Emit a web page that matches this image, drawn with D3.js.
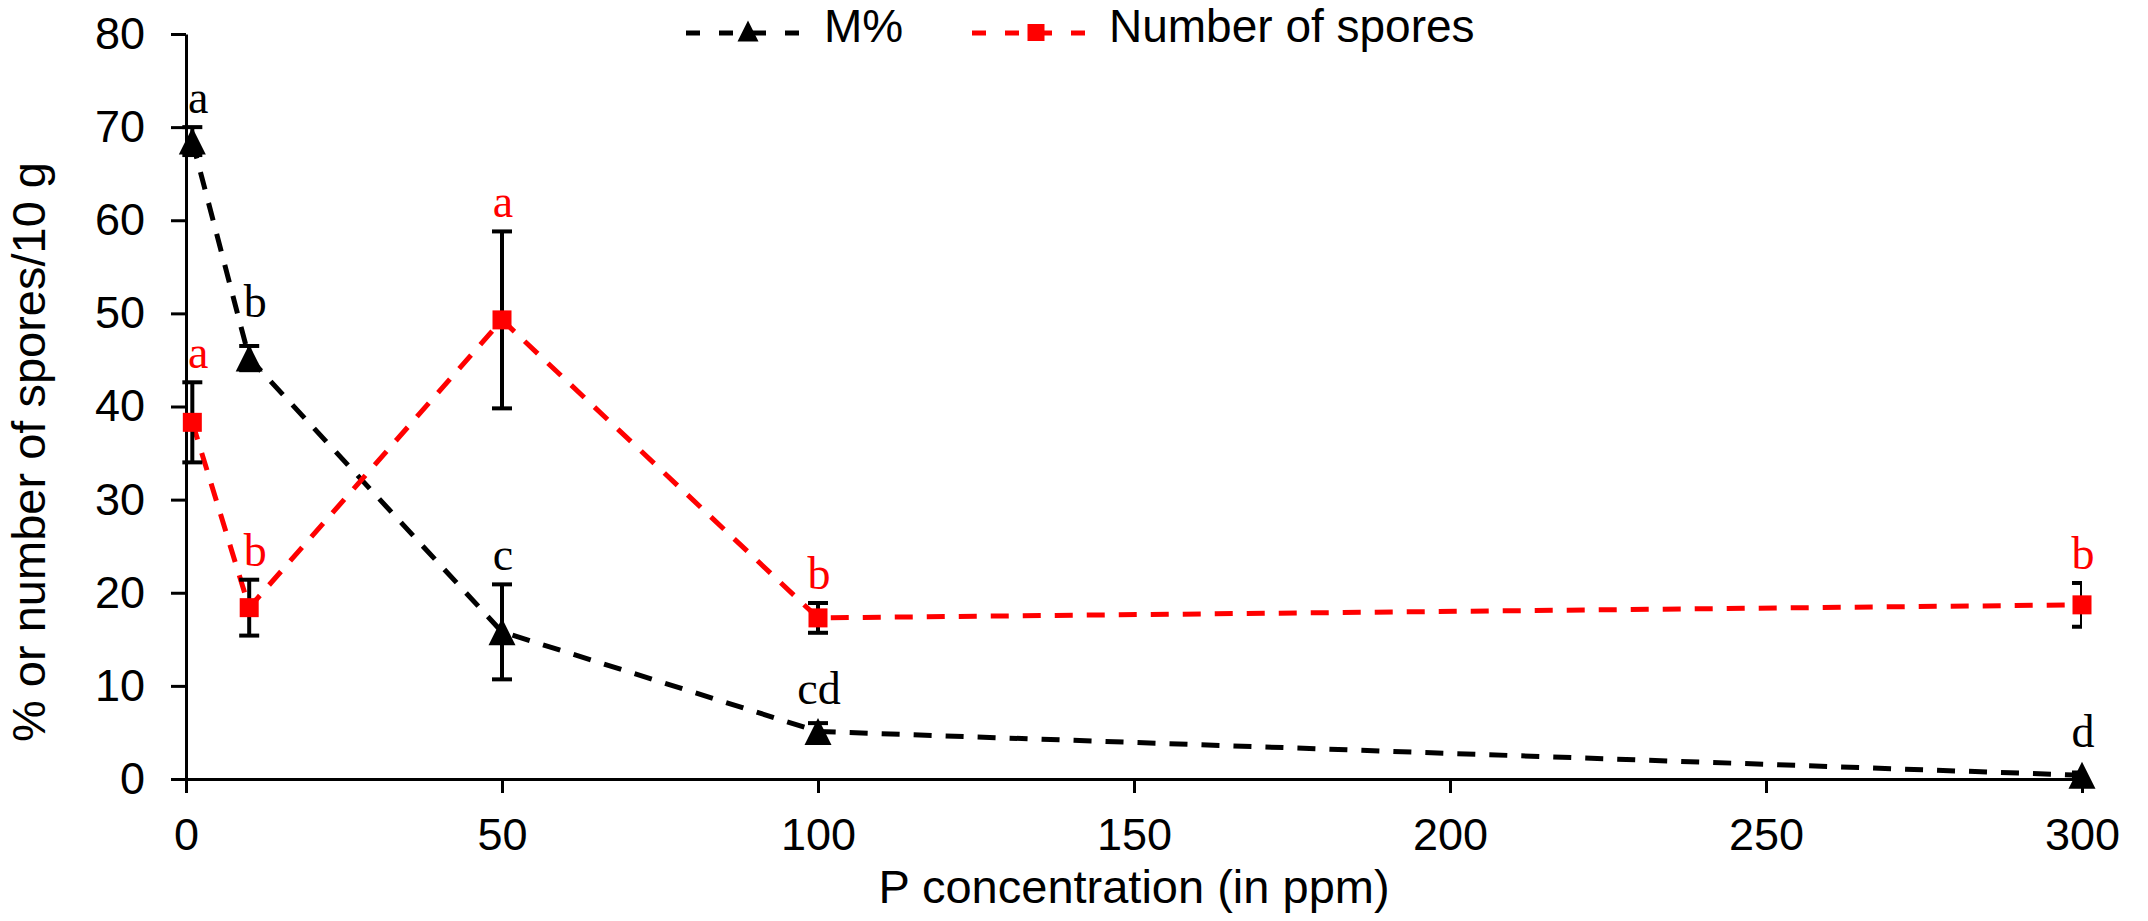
<!doctype html>
<html lang="en">
<head>
<meta charset="utf-8">
<title>P concentration vs M% and spores</title>
<script src="https://d3js.org/d3.v7.min.js"></script>
<style>
  body { margin: 0; background: #fff; }
  svg { display: block; }
  text { font-family: 'Liberation Sans', Arial, sans-serif; fill: #000; }
  .axis text { font-size: 45px; }
  .axis path, .axis line { stroke: #000; stroke-width: 3px; }
  .label { font-size: 47px; }
  .legend text { font-size: 46px; }
  .letter { font-family: 'Liberation Serif', 'Times New Roman', serif; font-size: 46px; }
</style>
</head>
<body>
<svg id="chart" width="2148" height="921"></svg>
<script>
// P concentration (ppm) of each treatment
const pConc = [1, 10, 50, 100, 300];

// M% (black, triangles)
const mPct = [68.5, 45.2, 15.8, 5.1, 0.4];
const mErr = [1.5, 1.3, 5.1, 0.9, 0.3];
const mLetters = ['a', 'b', 'c', 'cd', 'd'];

// Number of spores / 10 g (red, squares)
const spores = [38.3, 18.4, 49.3, 17.3, 18.7];
const sporesErr = [4.3, 3.0, 9.5, 1.6, 2.35];
const sporesLetters = ['a', 'b', 'a', 'b', 'b'];

const xTicks = [0, 50, 100, 150, 200, 250, 300];
const yTicks = [0, 10, 20, 30, 40, 50, 60, 70, 80];

const series = [
  { name: 'M%', values: mPct, err: mErr, letters: mLetters, color: '#000000', marker: 'triangle' },
  { name: 'Number of spores', values: spores, err: sporesErr, letters: sporesLetters, color: '#ff0000', marker: 'square' }
];

const svg = d3.select('#chart');
const plotLeft = 186, plotRight = 2082, plotTop = 34, plotBottom = 779;

const x = d3.scaleLinear().domain([0, 300]).range([plotLeft, plotRight]);
const y = d3.scaleLinear().domain([0, 80]).range([plotBottom, plotTop]);

const tri = (s) => `M${-s / 2},${s / 2}L0,${-s / 2}L${s / 2},${s / 2}Z`;

// axes
svg.append('g')
  .attr('class', 'axis')
  .attr('transform', `translate(0,${plotBottom})`)
  .call(d3.axisBottom(x).tickValues(xTicks).tickSize(14).tickSizeOuter(0).tickPadding(25));

svg.append('g')
  .attr('class', 'axis')
  .attr('transform', `translate(${plotLeft},0)`)
  .call(d3.axisLeft(y).tickValues(yTicks).tickSize(15).tickSizeOuter(0).tickPadding(26));

svg.append('clipPath').attr('id', 'plot')
  .append('rect')
  .attr('x', plotLeft - 40).attr('y', 0)
  .attr('width', plotRight - plotLeft + 40).attr('height', plotBottom);

// dashed lines
const line = d3.line()
  .x((d, i) => x(pConc[i]))
  .y((d) => y(d));

series.forEach((s) => {
  svg.append('path')
    .datum(s.values)
    .attr('d', line)
    .attr('fill', 'none')
    .attr('stroke', s.color)
    .attr('stroke-width', 5)
    .attr('stroke-dasharray', '18 14');
});

// error bars (black for both)
series.forEach((s) => {
  const g = svg.append('g').attr('clip-path', 'url(#plot)')
    .attr('stroke', '#000').attr('stroke-width', 4);
  s.values.forEach((v, i) => {
    const cx = x(pConc[i]);
    const y1 = y(v + s.err[i]), y2 = y(v - s.err[i]);
    g.append('line').attr('x1', cx).attr('x2', cx).attr('y1', y1).attr('y2', y2);
    g.append('line').attr('x1', cx - 10).attr('x2', cx + 10).attr('y1', y1).attr('y2', y1);
    g.append('line').attr('x1', cx - 10).attr('x2', cx + 10).attr('y1', y2).attr('y2', y2);
  });
});

// markers
series.forEach((s) => {
  const g = svg.append('g');
  s.values.forEach((v, i) => {
    const cx = x(pConc[i]), cy = y(v);
    if (s.marker === 'triangle') {
      g.append('path').attr('d', tri(27)).attr('transform', `translate(${cx},${cy})`).attr('fill', s.color);
    } else {
      g.append('rect').attr('x', cx - 9.5).attr('y', cy - 9.5).attr('width', 19).attr('height', 19).attr('fill', s.color);
    }
  });
});

// significance letters, just above the top of each error bar / marker
series.forEach((s) => {
  s.values.forEach((v, i) => {
    const clear = s.marker === 'triangle' && s.err[i] < 2 && i === 1 ? 27 : 14;
    const yTop = Math.min(y(v + s.err[i]), y(v) - clear);
    svg.append('text')
      .attr('class', 'letter')
      .attr('x', x(pConc[i]) + (i < 2 ? 6 : 1))
      .attr('y', yTop - 14)
      .attr('text-anchor', 'middle')
      .style('fill', s.color)
      .text(s.letters[i]);
  });
});

// axis titles
svg.append('text')
  .attr('class', 'label')
  .attr('x', (plotLeft + plotRight) / 2)
  .attr('y', 903)
  .attr('text-anchor', 'middle')
  .text('P concentration (in ppm)');

svg.append('text')
  .attr('class', 'label')
  .attr('transform', 'rotate(-90)')
  .attr('x', -452)
  .attr('y', 45)
  .attr('text-anchor', 'middle')
  .text('% or number of spores/10 g');

// legend
const legend = svg.append('g').attr('class', 'legend');
const legendItems = [
  { s: series[0], x1: 686, x2: 800, mx: 748, tx: 824 },
  { s: series[1], x1: 972, x2: 1090, mx: 1036, tx: 1109 }
];
legendItems.forEach((it) => {
  legend.append('line')
    .attr('x1', it.x1).attr('x2', it.x2).attr('y1', 33).attr('y2', 33)
    .attr('stroke', it.s.color).attr('stroke-width', 5).attr('stroke-dasharray', '14 19');
  if (it.s.marker === 'triangle') {
    legend.append('path').attr('d', tri(21)).attr('transform', `translate(${it.mx},31)`).attr('fill', it.s.color);
  } else {
    legend.append('rect').attr('x', it.mx - 8.5).attr('y', 24).attr('width', 17).attr('height', 17).attr('fill', it.s.color);
  }
  legend.append('text').attr('x', it.tx).attr('y', 42).text(it.s.name);
});
</script>
</body>
</html>
